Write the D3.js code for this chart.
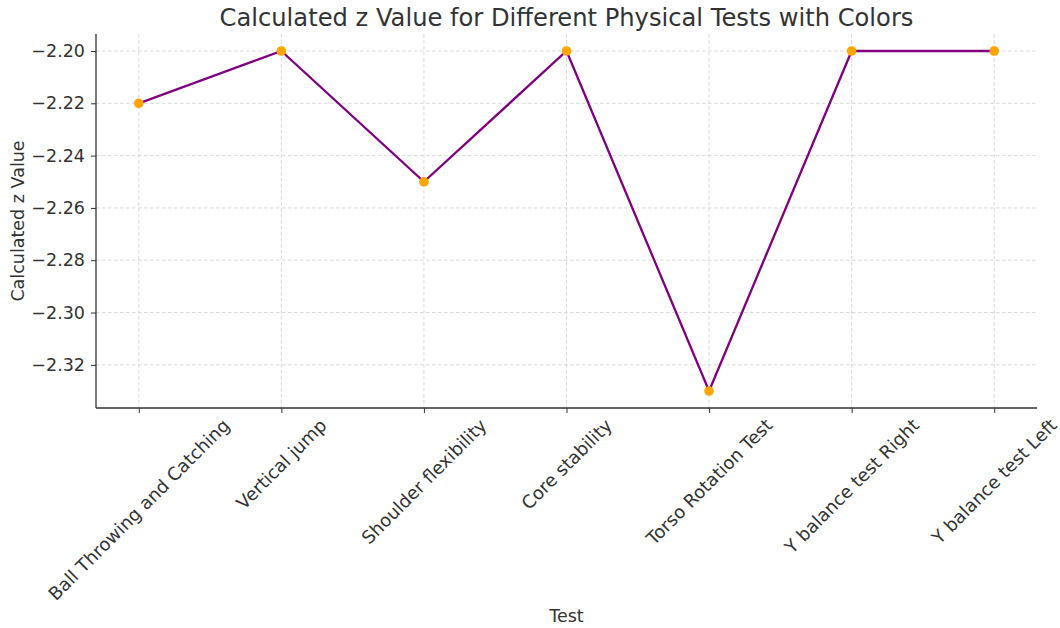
<!DOCTYPE html>
<html>
<head>
<meta charset="utf-8">
<script src="https://cdn.jsdelivr.net/npm/d3@7"></script>
<style>
  body { margin: 0; background: #fff; }
  text { font-family: "DejaVu Sans", sans-serif; fill: #333; }
</style>
</head>
<body>
<svg id="chart" width="1060" height="628"></svg>
<script>
// data
var tests = ["Ball Throwing and Catching", "Vertical jump", "Shoulder flexibility",
             "Core stability", "Torso Rotation Test", "Y balance test Right", "Y balance test Left"];
var zValues = [-2.22, -2.20, -2.25, -2.20, -2.33, -2.20, -2.20];
var yTicks = [-2.32, -2.30, -2.28, -2.26, -2.24, -2.22, -2.20];

var plotLeft = 96, plotRight = 1037, plotTop = 34, plotBottom = 408;

var svg = d3.select("#chart");

var x = d3.scaleLinear().domain([-0.3, tests.length - 1 + 0.3]).range([plotLeft, plotRight]);
var yMin = d3.min(zValues), yMax = d3.max(zValues), pad = (yMax - yMin) * 0.05;
var y = d3.scaleLinear().domain([yMin - pad, yMax + pad]).range([plotBottom, plotTop]);

var fmt = function(d) { return d3.format(".2f")(d).replace("-", "\u2212"); };

// grid
var grid = svg.append("g").attr("stroke", "#cfcfcf").attr("stroke-width", 0.8)
  .attr("stroke-dasharray", "3.5,2.5");
grid.selectAll(".gx").data(tests).enter().append("line")
  .attr("x1", function(d, i) { return x(i); }).attr("x2", function(d, i) { return x(i); })
  .attr("y1", plotTop).attr("y2", plotBottom);
grid.selectAll(".gy").data(yTicks).enter().append("line")
  .attr("x1", plotLeft).attr("x2", plotRight)
  .attr("y1", function(d) { return y(d); }).attr("y2", function(d) { return y(d); });

// y axis
var yAxis = svg.append("g").attr("transform", "translate(" + plotLeft + ",0)")
  .call(d3.axisLeft(y).tickValues(yTicks).tickFormat(fmt).tickSizeOuter(0).tickSize(5).tickPadding(6));
yAxis.selectAll("text").style("font-size", "17.5px").attr("fill", "#333");

// x axis
var xAxis = svg.append("g").attr("transform", "translate(0," + plotBottom + ")")
  .call(d3.axisBottom(x).tickValues(d3.range(tests.length)).tickFormat("").tickSizeOuter(0).tickSize(5));
svg.selectAll(".domain").remove();
svg.selectAll(".tick line").attr("stroke", "#333");

// spines (left and bottom only)
svg.append("line").attr("x1", plotLeft).attr("x2", plotLeft).attr("y1", plotTop).attr("y2", plotBottom)
  .attr("stroke", "#333").attr("stroke-width", 1.3);
svg.append("line").attr("x1", plotLeft).attr("x2", plotRight).attr("y1", plotBottom).attr("y2", plotBottom)
  .attr("stroke", "#333").attr("stroke-width", 1.3);

// rotated category labels, bounding box centred on the tick
var labels = svg.append("g").selectAll("text").data(tests).enter().append("text")
  .style("font-size", "18px")
  .attr("text-anchor", "middle")
  .attr("dominant-baseline", "central")
  .text(function(d) { return d; });
labels.each(function(d, i) {
  var L = this.getComputedTextLength();
  var h = 17;
  var cy = plotBottom + 8 + (L + h) * Math.SQRT1_2 / 2;
  d3.select(this).attr("transform", "translate(" + x(i) + "," + cy + ") rotate(-45)");
});

// line + markers
var line = d3.line().x(function(d, i) { return x(i); }).y(function(d) { return y(d); });
svg.append("path").datum(zValues).attr("d", line)
  .attr("fill", "none").attr("stroke", "#800080").attr("stroke-width", 2.3);
svg.selectAll(".dot").data(zValues).enter().append("circle")
  .attr("cx", function(d, i) { return x(i); }).attr("cy", function(d) { return y(d); })
  .attr("r", 4.8).attr("fill", "#FFA500");

// titles
svg.append("text").attr("x", (plotLeft + plotRight) / 2).attr("y", 26).attr("text-anchor", "middle")
  .style("font-size", "24.2px").attr("fill", "#444")
  .text("Calculated z Value for Different Physical Tests with Colors");
svg.append("text").attr("x", (plotLeft + plotRight) / 2).attr("y", 622).attr("text-anchor", "middle")
  .style("font-size", "17.5px").text("Test");
svg.append("text").attr("transform", "translate(24," + (plotTop + plotBottom) / 2 + ") rotate(-90)")
  .attr("text-anchor", "middle").style("font-size", "17.5px").text("Calculated z Value");
</script>
</body>
</html>
